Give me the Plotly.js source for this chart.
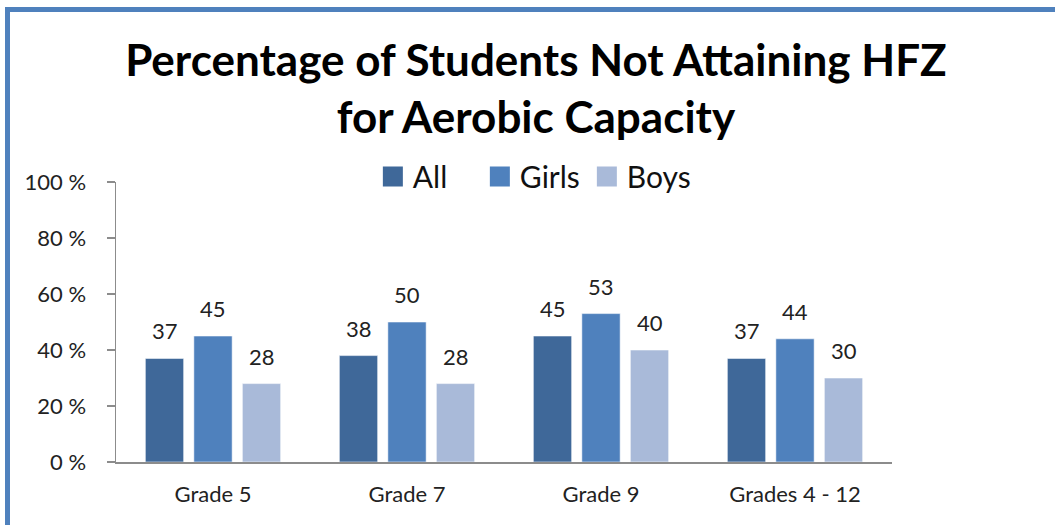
<!DOCTYPE html>
<html>
<head>
<meta charset="utf-8">
<script src="https://cdn.plot.ly/plotly-3.0.1.min.js"></script>
<style>
  html, body { margin: 0; padding: 0; background: #ffffff; }
  #wrap { position: relative; width: 1055px; height: 525px; overflow: hidden; }
  #chart { position: absolute; left: 0; top: 0; width: 1055px; height: 525px; }
  #frame {
    position: absolute; left: 5px; top: 7px; width: 1200px; height: 700px;
    border-left: 5px solid #4F81BD; border-top: 5px solid #4F81BD;
    pointer-events: none;
  }
</style>
</head>
<body>
<div id="wrap">
  <div id="chart"></div>
  <div id="frame"></div>
</div>
<script>
// Share of students not reaching the Healthy Fitness Zone, by grade group
const categories = ['Grade 5', 'Grade 7', 'Grade 9', 'Grades 4 - 12'];
const seriesNames = ['All', 'Girls', 'Boys'];
const allValues = [37, 38, 45, 37];
const girlsValues = [45, 50, 53, 44];
const boysValues = [28, 28, 40, 30];
const seriesValues = [allValues, girlsValues, boysValues];
const seriesColors = ['#3F6899', '#4F81BD', '#A9BAD9'];
const yTicks = [0, 20, 40, 60, 80, 100];

const FONT = 'Lato, "Open Sans", sans-serif';
const BARGAP = 0.25;
const BARGROUPGAP = 0.21;

const traces = seriesValues.map((vals, s) => ({
  type: 'bar',
  name: seriesNames[s],
  x: categories,
  y: vals,
  marker: { color: seriesColors[s], line: { color: 'rgba(255,255,255,0.55)', width: 1 } },
  hoverinfo: 'x+y+name'
}));

// value labels sit above each bar, offset to that bar's slot within its group
const slot = (1 - BARGAP) / seriesValues.length;
const annotations = [];
seriesValues.forEach((vals, s) => {
  vals.forEach((v, i) => {
    annotations.push({
      xref: 'x', yref: 'y',
      x: i + (s - (seriesValues.length - 1) / 2) * slot,
      y: v,
      text: String(v),
      showarrow: false,
      xanchor: 'center', yanchor: 'bottom',
      yshift: 12,
      font: { family: FONT, size: 22, color: '#222222' }
    });
  });
});

const layout = {
  width: 1055, height: 525,
  paper_bgcolor: '#ffffff', plot_bgcolor: '#ffffff',
  margin: { l: 116, r: 163, t: 182, b: 63 },
  font: { family: FONT, color: '#222222' },
  title: {
    text: '<b>Percentage of Students Not Attaining HFZ<br>for Aerobic Capacity</b>',
    font: { family: FONT, size: 44, color: '#000000' },
    xref: 'container', yref: 'container',
    x: 0.508, xanchor: 'center',
    y: 0.855, yanchor: 'middle'
  },
  barmode: 'group',
  bargap: BARGAP,
  bargroupgap: BARGROUPGAP,
  showlegend: true,
  legend: {
    orientation: 'h',
    x: 0.331, xanchor: 'left',
    y: 1.02, yanchor: 'middle',
    entrywidth: 62, entrywidthmode: 'pixels',
    font: { family: FONT, size: 30, color: '#111111' },
    bgcolor: 'rgba(0,0,0,0)'
  },
  xaxis: {
    type: 'category',
    showline: true, linecolor: '#8C8C8C', linewidth: 1.5,
    ticks: '', showgrid: false, zeroline: false,
    tickfont: { family: FONT, size: 22, color: '#222222' },
    ticklabelstandoff: 12
  },
  yaxis: {
    range: [0, 100],
    tickvals: yTicks,
    ticktext: yTicks.map(t => t + ' %'),
    showline: true, linecolor: '#8C8C8C', linewidth: 1.5,
    ticks: 'outside', ticklen: 8, tickcolor: '#8C8C8C', tickwidth: 1.5,
    showgrid: false, zeroline: false,
    tickfont: { family: FONT, size: 22, color: '#222222' },
    ticklabelstandoff: 16
  },
  annotations: annotations
};

// larger square swatches in the legend
function enlargeLegendSwatches() {
  document.querySelectorAll('#chart .legendpoints path').forEach(p => {
    p.setAttribute('d', 'M10,10H-10V-10H10Z');
    p.style.strokeWidth = '0px';
  });
}

Plotly.newPlot('chart', traces, layout, { displayModeBar: false, staticPlot: true })
  .then(gd => {
    enlargeLegendSwatches();
    gd.on('plotly_afterplot', enlargeLegendSwatches);
  });
</script>
</body>
</html>
